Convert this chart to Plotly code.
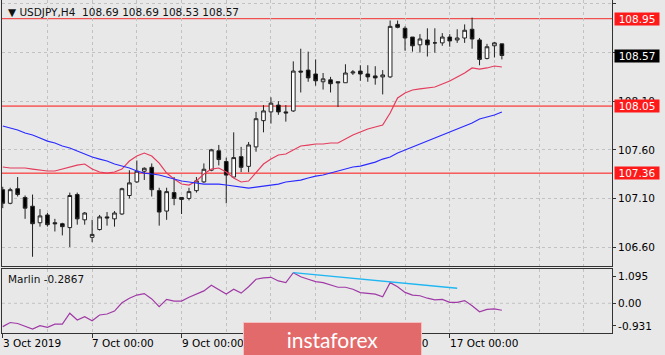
import plotly.graph_objects as go

# ---------------- data (H4 candles, index 0 = 3 Oct 2019 00:00) ----------------
OPEN = [107.19, 107.05, 107.20, 107.11, 107.02, 106.85, 106.93, 106.85, 106.84, 106.80,
        107.14, 106.88, 106.70, 106.78, 106.91, 106.89, 106.94, 107.13, 107.27, 107.38,
        107.42, 107.18, 106.97, 107.16, 107.11, 107.10, 107.18, 107.27, 107.39, 107.59,
        107.48, 107.32, 107.53, 107.43, 107.63, 107.90, 107.99, 108.06, 107.99, 108.00,
        108.41, 108.42, 108.38, 108.30, 108.32, 108.30, 108.29, 108.39, 108.41, 108.38,
        108.36, 108.35, 108.35, 108.89, 108.85, 108.76, 108.68, 108.73, 108.70, 108.70,
        108.76, 108.73, 108.75, 108.84, 108.73, 108.54, 108.67, 108.69]
HIGH = [107.22, 107.21, 107.32, 107.13, 107.14, 106.99, 106.95, 106.89, 106.85, 107.16,
        107.16, 106.96, 106.88, 106.93, 106.96, 106.97, 107.21, 107.39, 107.49, 107.42,
        107.46, 107.21, 107.21, 107.32, 107.11, 107.21, 107.32, 107.46, 107.61, 107.65,
        107.52, 107.78, 107.63, 107.68, 107.99, 108.06, 108.14, 108.10, 108.06, 108.51,
        108.64, 108.61, 108.53, 108.39, 108.35, 108.30, 108.48, 108.42, 108.47, 108.47,
        108.46, 108.42, 108.93, 108.93, 108.87, 108.76, 108.79, 108.85, 108.85, 108.80,
        108.79, 108.84, 108.89, 108.96, 108.75, 108.69, 108.71, 108.69]
LOW = [107.00, 107.04, 107.12, 106.89, 106.50, 106.81, 106.81, 106.76, 106.72, 106.60,
       106.83, 106.83, 106.65, 106.77, 106.82, 106.81, 106.93, 107.10, 107.26, 107.29,
       107.12, 106.82, 106.88, 107.03, 106.94, 107.08, 107.16, 107.26, 107.38, 107.44,
       107.05, 107.32, 107.37, 107.37, 107.58, 107.78, 107.87, 107.96, 107.89, 107.99,
       108.19, 108.30, 108.26, 108.22, 108.19, 108.04, 108.29, 108.37, 108.31, 108.30,
       108.27, 108.17, 108.34, 108.85, 108.62, 108.61, 108.60, 108.56, 108.60, 108.67,
       108.66, 108.70, 108.70, 108.64, 108.47, 108.53, 108.55, 108.53]
CLOSE = [107.05, 107.19, 107.14, 107.00, 106.84, 106.92, 106.83, 106.84, 106.81, 107.13,
         106.89, 106.95, 106.73, 106.91, 106.90, 106.95, 107.20, 107.26, 107.38, 107.41,
         107.19, 106.96, 107.17, 107.10, 107.09, 107.17, 107.28, 107.40, 107.60, 107.50,
         107.34, 107.52, 107.42, 107.65, 107.92, 108.00, 108.08, 107.99, 107.98, 108.41,
         108.40, 108.34, 108.31, 108.33, 108.28, 108.29, 108.39, 108.40, 108.38, 108.35,
         108.34, 108.37, 108.87, 108.86, 108.75, 108.67, 108.74, 108.68, 108.70, 108.76,
         108.72, 108.75, 108.83, 108.74, 108.53, 108.66, 108.70, 108.57]

MA_FAST = [107.423, 107.413, 107.413, 107.413, 107.402, 107.392, 107.382, 107.382, 107.402, 107.423,
           107.443, 107.454, 107.402, 107.372, 107.361, 107.372, 107.402, 107.485, 107.536, 107.567,
           107.536, 107.464, 107.361, 107.300, 107.248, 107.238, 107.279, 107.351, 107.402, 107.413,
           107.372, 107.310, 107.269, 107.279, 107.361, 107.454, 107.505, 107.547, 107.557, 107.598,
           107.639, 107.649, 107.660, 107.660, 107.670, 107.670, 107.711, 107.752, 107.783, 107.814,
           107.835, 107.855, 107.979, 108.133, 108.184, 108.215, 108.226, 108.236, 108.246, 108.277,
           108.308, 108.349, 108.390, 108.442, 108.431, 108.442, 108.462, 108.452]
MA_SLOW = [107.845, 107.824, 107.804, 107.773, 107.752, 107.721, 107.690, 107.670, 107.639, 107.619,
           107.588, 107.557, 107.526, 107.505, 107.485, 107.454, 107.433, 107.413, 107.382, 107.361,
           107.351, 107.341, 107.320, 107.300, 107.279, 107.269, 107.258, 107.248, 107.248, 107.248,
           107.238, 107.228, 107.217, 107.207, 107.217, 107.228, 107.238, 107.248, 107.269, 107.279,
           107.289, 107.310, 107.330, 107.341, 107.361, 107.382, 107.402, 107.423, 107.433, 107.454,
           107.474, 107.505, 107.526, 107.567, 107.598, 107.629, 107.660, 107.690, 107.721, 107.752,
           107.783, 107.814, 107.845, 107.876, 107.917, 107.937, 107.958, 107.989]

MARLIN = [-0.96, -0.79, -0.83, -0.93, -1.06, -0.92, -0.99, -0.86, -0.86, -0.41,
          -0.69, -0.55, -0.72, -0.48, -0.44, -0.32, 0.02, 0.21, 0.34, 0.40,
          0.18, -0.14, 0.16, 0.09, 0.09, 0.25, 0.37, 0.51, 0.74, 0.55,
          0.38, 0.58, 0.42, 0.68, 0.99, 1.05, 1.07, 0.92, 0.85, 1.26,
          1.09, 0.99, 0.89, 0.85, 0.75, 0.66, 0.66, 0.58, 0.44, 0.41,
          0.38, 0.27, 0.85, 0.68, 0.45, 0.34, 0.31, 0.21, 0.14, 0.16,
          0.04, 0.04, 0.11, -0.10, -0.35, -0.25, -0.23, -0.2867]
TREND_X = [39, 61]
TREND_Y = [1.26, 0.62]

LEVELS = [108.95, 108.05, 107.36]
PRICE_TICKS = [106.60, 107.10, 107.60, 108.10, 108.60, 109.10]
PRICE_TICK_TEXT = ["106.60", "107.10", "107.60", "108.10", "", "109.10"]
IND_TICKS = [1.095, 0.0, -0.931]
IND_TICK_TEXT = ["1.095", "0.00", "-0.931"]
X_LABEL_IDX = [0, 12, 24, 36, 48, 60]
X_LABELS = ["3 Oct 2019", "7 Oct 00:00", "9 Oct 00:00", "11 Oct 00:00",
            "15 Oct 00:00", "17 Oct 00:00"]
SYMBOL = "USDJPY,H4"
IND_NAME = "Marlin"

IDX = list(range(len(OPEN)))

# ---------------- styling ----------------
BG = "#e8e8e8"
GRID = "#c2c2c2"
AX = "#333333"
FONT = "DejaVu Sans"
FS = 10.5
XR = [-0.1, 81.78]

fig = go.Figure()

fig.add_trace(go.Candlestick(
    x=IDX, open=OPEN, high=HIGH, low=LOW, close=CLOSE,
    increasing=dict(fillcolor="#ffffff", line=dict(color="#222222", width=1)),
    decreasing=dict(fillcolor="#000000", line=dict(color="#222222", width=1)),
    whiskerwidth=0, xaxis="x", yaxis="y", showlegend=False, hoverinfo="skip"))

fig.add_trace(go.Scatter(x=IDX, y=MA_FAST, mode="lines", xaxis="x", yaxis="y",
                         line=dict(color="#e43c5c", width=1.2), showlegend=False))
fig.add_trace(go.Scatter(x=IDX, y=MA_SLOW, mode="lines", xaxis="x", yaxis="y",
                         line=dict(color="#2a2aff", width=1.2), showlegend=False))

fig.add_trace(go.Scatter(x=IDX, y=MARLIN, mode="lines", xaxis="x2", yaxis="y2",
                         line=dict(color="#a03aa6", width=1.2), showlegend=False))
fig.add_trace(go.Scatter(x=TREND_X, y=TREND_Y, mode="lines", xaxis="x2", yaxis="y2",
                         line=dict(color="#1fb6f2", width=1.3), showlegend=False))

# horizontal levels
for i, lv in enumerate(LEVELS):
    fig.add_shape(type="line", xref="x domain", yref="y", x0=0, x1=1, y0=lv, y1=lv,
                  line=dict(color="#f05050" if i == 0 else "#ff1010", width=1.2 if i == 0 else 1),
                  layer="below")
# zero grid in indicator
fig.add_shape(type="line", xref="x2 domain", yref="y2", x0=0, x1=1,
              y0=IND_TICKS[1], y1=IND_TICKS[1],
              line=dict(color=GRID, width=1, dash="3px,3px"), layer="below")

axis_common = dict(showline=True, mirror=True, linecolor=AX, linewidth=1, zeroline=False)

fig.update_layout(
    width=665, height=355,
    margin=dict(l=2, r=53, t=0, b=22),
    paper_bgcolor=BG, plot_bgcolor=BG,
    font=dict(family=FONT, size=FS, color="#000000"),
    showlegend=False,
    xaxis=dict(domain=[0, 1], range=XR, anchor="y", showticklabels=False, ticks="",
               tickmode="linear", tick0=0, dtick=6, showgrid=True, gridcolor=GRID,
               griddash="3px,3px", rangeslider=dict(visible=False), **axis_common),
    yaxis=dict(domain=[0.2012, 1], range=[106.405, 109.141], anchor="x", side="right",
               tickvals=PRICE_TICKS, ticktext=PRICE_TICK_TEXT,
               ticks="outside", ticklen=3, tickcolor=AX, showgrid=True, gridcolor=GRID,
               griddash="3px,3px", tickfont=dict(family=FONT, size=FS, color="#000"),
               **axis_common),
    xaxis2=dict(domain=[0, 1], range=XR, anchor="y2", showticklabels=False,
                tickvals=X_LABEL_IDX, ticks="outside", ticklen=4, tickcolor=AX,
                showgrid=True, gridcolor=GRID, griddash="3px,3px",
                minor=dict(tickmode="linear", tick0=0, dtick=6, showgrid=True,
                           gridcolor=GRID, griddash="3px,3px", ticks=""),
                **axis_common),
    yaxis2=dict(domain=[0, 0.1931], range=[-1.222, 1.424], anchor="x2", side="right",
                tickvals=IND_TICKS, ticktext=IND_TICK_TEXT, ticks="outside", ticklen=3,
                tickcolor=AX, showgrid=False,
                tickfont=dict(family=FONT, size=FS, color="#000"), **axis_common),
)

ann = []
# x labels, left aligned at tick
for xi, txt in zip(X_LABEL_IDX, X_LABELS):
    ann.append(dict(x=xi, xref="x2", y=0, yref="paper", yanchor="top", xanchor="left",
                    yshift=-2, xshift=-2, text=txt, showarrow=False,
                    font=dict(family=FONT, size=FS, color="#000")))
# title
ann.append(dict(x=0, xref="paper", y=1, yref="paper", xanchor="left", yanchor="top",
                xshift=4, yshift=-4, showarrow=False,
                text=f"\u25bc {SYMBOL}\u00a0\u00a0{OPEN[-1]:.2f} {HIGH[-1]:.2f} {LOW[-1]:.2f} {CLOSE[-1]:.2f}",
                font=dict(family=FONT, size=FS, color="#111")))
# indicator name
ann.append(dict(x=0, xref="paper", y=0.1931, yref="paper", xanchor="left", yanchor="top",
                xshift=4, yshift=-2, showarrow=False,
                text=f"{IND_NAME} {MARLIN[-1]:.4f}",
                font=dict(family=FONT, size=FS, color="#111")))
# price markers
for lv in LEVELS:
    ann.append(dict(x=1, xref="paper", y=lv, yref="y", xanchor="left", yanchor="middle",
                    xshift=2, showarrow=False, text=f"{lv:.2f}", bgcolor="#ff1a1a",
                    width=42, height=10, borderpad=1,
                    font=dict(family=FONT, size=FS, color="#ffffff")))
ann.append(dict(x=1, xref="paper", y=CLOSE[-1], yref="y", xanchor="left", yanchor="middle",
                xshift=2, showarrow=False, text=f"{CLOSE[-1]:.2f}", bgcolor="#000000",
                width=42, height=10, borderpad=1,
                font=dict(family=FONT, size=FS, color="#ffffff")))
# logo
ann.append(dict(x=0.5418, xref="paper", y=-0.018, yref="paper", xanchor="center",
                yanchor="middle", showarrow=False, text="instaforex",
                bgcolor="#e26a6a", bordercolor="#f4c0c0", borderwidth=1,
                width=175, height=30, borderpad=1,
                font=dict(family="Lato", size=21, color="#ffffff")))

fig.update_layout(annotations=ann)

fig.write_html("out.html", config={"displayModeBar": False})
